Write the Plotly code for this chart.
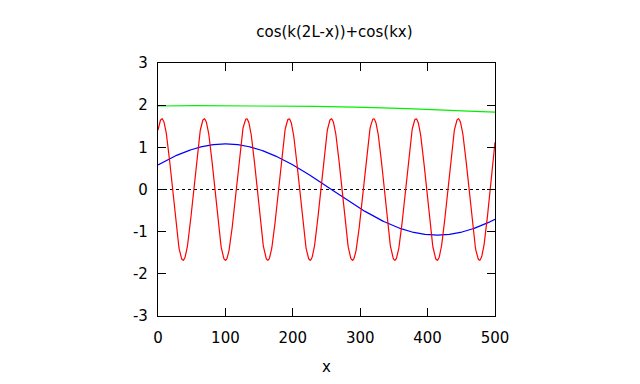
import numpy as np
import plotly.graph_objects as go

# Parameters of the plotted function f(x) = cos(k(2L-x)) + cos(kx)
L_value = 100
k_values = [0.01, 0.001, 0.1]          # blue, green, red
line_colors = ["#0000ff", "#00f000", "#ff0000"]
x_range = [0, 500]
y_range = [-3, 3]
x_ticks = [0, 100, 200, 300, 400, 500]
y_ticks = [-3, -2, -1, 0, 1, 2, 3]
y_tick_labels = ["-3", "-2", "-1", "0", "1", "2", "3"]

x = np.linspace(x_range[0], x_range[1], 1001)

fig = go.Figure()
for k, c in zip(k_values, line_colors):
    y = np.cos(k * (2 * L_value - x)) + np.cos(k * x)
    fig.add_trace(go.Scatter(x=x, y=y, mode="lines",
                             line=dict(color=c, width=1.2), showlegend=False))

fig.add_shape(type="line", xref="paper", yref="y", x0=0, x1=1, y0=0, y1=0,
              line=dict(color="black", width=1.2, dash="dot"), layer="below")

font = dict(family="DejaVu Sans", size=15, color="black")
axis_common = dict(showgrid=False, zeroline=False, showline=True, linecolor="black",
                   linewidth=1.2, mirror="ticks", ticks="inside", ticklen=8,
                   tickcolor="black", tickwidth=1.2, tickfont=font)

fig.update_layout(
    width=640, height=384,
    margin=dict(l=150, r=153, t=55, b=76),
    paper_bgcolor="white", plot_bgcolor="white",
    title=dict(text="cos(k(2L-x))+cos(kx)", x=0.51, xanchor="center",
               y=1 - 24 / 384, yanchor="middle", font=font),
    xaxis=dict(range=x_range, tickvals=x_ticks, ticklabelstandoff=8,
               title=dict(text="x", font=font, standoff=15), **axis_common),
    yaxis=dict(range=y_range, tickvals=y_ticks, ticktext=y_tick_labels,
               ticklabelstandoff=6, **axis_common),
)

fig.write_html("out.html")
